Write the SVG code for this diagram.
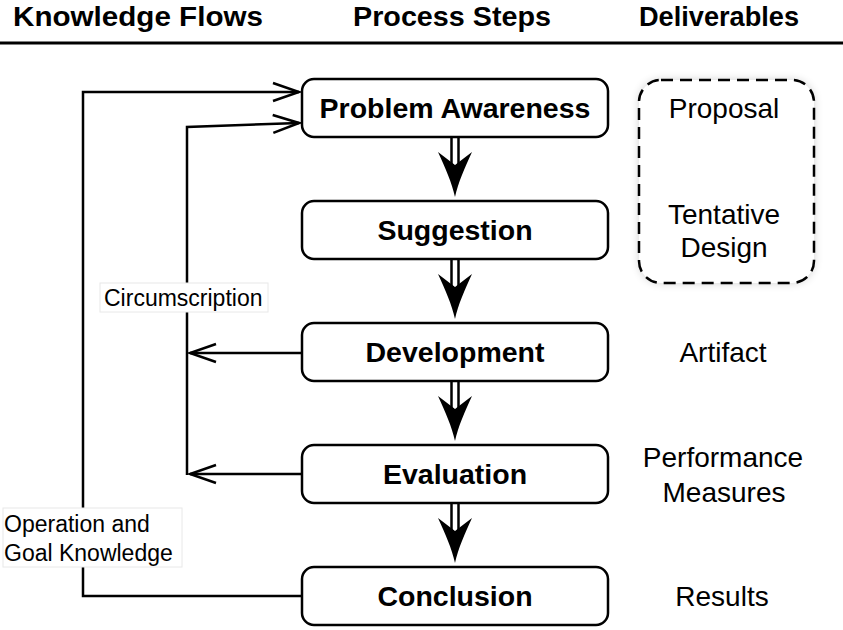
<svg xmlns="http://www.w3.org/2000/svg" width="843" height="630" viewBox="0 0 843 630">
<style>
.hdr{font-family:"Liberation Sans",Arial,sans-serif;font-weight:bold;font-size:27px;fill:#000}
.step{font-family:"Liberation Sans",Arial,sans-serif;font-weight:bold;font-size:28.5px;fill:#000;text-anchor:middle}
.deliv{font-family:"Liberation Sans",Arial,sans-serif;font-size:28px;fill:#000;text-anchor:middle}
.lbl{font-family:"Liberation Sans",Arial,sans-serif;font-size:23px;fill:#000}
.box{fill:#fff;stroke:#000;stroke-width:2.5}
.conn{fill:none;stroke:#000;stroke-width:2.5}
.shaft{stroke:#000;stroke-width:2.5}
.lblbg{fill:#fff;stroke:#e8e8e8;stroke-width:1}
</style>
<defs>
<marker id="open" markerUnits="userSpaceOnUse" markerWidth="32" markerHeight="24" refX="29" refY="12" orient="auto">
<path d="M3,3 L29,12 L3,21" fill="none" stroke="#000" stroke-width="2.5"/>
</marker>
<g id="dn">
<line class="shaft" x1="-3.5" y1="0" x2="-3.5" y2="27"/>
<line class="shaft" x1="3.5" y1="0" x2="3.5" y2="27"/>
<path d="M0,59 C-3,45 -10,29 -17,14 L0,27 L17,14 C10,29 3,45 0,59 Z" fill="#000"/>
</g>
<filter id="glow" x="-20%" y="-20%" width="140%" height="140%">
<feGaussianBlur stdDeviation="5"/>
</filter>
</defs>

<g id="headers">
<text class="hdr" x="13" y="26" textLength="250" lengthAdjust="spacingAndGlyphs">Knowledge Flows</text>
<text class="hdr" x="353" y="26" textLength="198" lengthAdjust="spacingAndGlyphs">Process Steps</text>
<text class="hdr" x="639" y="26" textLength="160" lengthAdjust="spacingAndGlyphs">Deliverables</text>
<line x1="0" y1="43" x2="843" y2="43" stroke="#000" stroke-width="3"/>
</g>

<g id="connectors">
<path class="conn" d="M302,596 H83 V92 H299" marker-end="url(#open)"/>
<path class="conn" d="M187,475 V127 L299,123" marker-end="url(#open)"/>
<path class="conn" d="M302,353 H190" marker-end="url(#open)"/>
<path class="conn" d="M302,474 H190" marker-end="url(#open)"/>
<use href="#dn" x="455" y="138"/>
<use href="#dn" x="455" y="260"/>
<use href="#dn" x="455" y="382"/>
<use href="#dn" x="455" y="504"/>
</g>

<g id="label-circumscription">
<rect class="lblbg" x="100" y="283" width="168" height="29"/>
<text class="lbl" x="104" y="306">Circumscription</text>
</g>

<g id="label-operation">
<rect class="lblbg" x="3" y="508" width="179" height="59"/>
<text class="lbl" x="4" y="532">Operation and</text>
<text class="lbl" x="4" y="561">Goal Knowledge</text>
</g>

<g id="problem-awareness">
<rect class="box" x="302" y="79" width="306" height="58" rx="12"/>
<text class="step" x="455" y="117.5">Problem Awareness</text>
</g>
<g id="suggestion">
<rect class="box" x="302" y="201" width="306" height="58" rx="12"/>
<text class="step" x="455" y="239.5">Suggestion</text>
</g>
<g id="development">
<rect class="box" x="302" y="323" width="306" height="58" rx="12"/>
<text class="step" x="455" y="361.5">Development</text>
</g>
<g id="evaluation">
<rect class="box" x="302" y="445" width="306" height="58" rx="12"/>
<text class="step" x="455" y="483.5">Evaluation</text>
</g>
<g id="conclusion">
<rect class="box" x="302" y="567" width="306" height="58" rx="12"/>
<text class="step" x="455" y="605.5">Conclusion</text>
</g>

<g id="deliverables-group">
<rect x="639" y="80" width="175" height="203" rx="22" fill="#000" opacity="0.18" filter="url(#glow)"/>
<rect x="639" y="80" width="175" height="203" rx="22" fill="#fff" stroke="#000" stroke-width="2.5" stroke-dasharray="12 7"/>
<text class="deliv" x="724" y="118">Proposal</text>
<text class="deliv" x="724" y="224">Tentative</text>
<text class="deliv" x="724" y="257">Design</text>
</g>
<g id="artifact"><text class="deliv" x="723" y="362">Artifact</text></g>
<g id="performance"><text class="deliv" x="723" y="467">Performance</text>
<text class="deliv" x="724" y="502">Measures</text></g>
<g id="results"><text class="deliv" x="722" y="606">Results</text></g>
</svg>
